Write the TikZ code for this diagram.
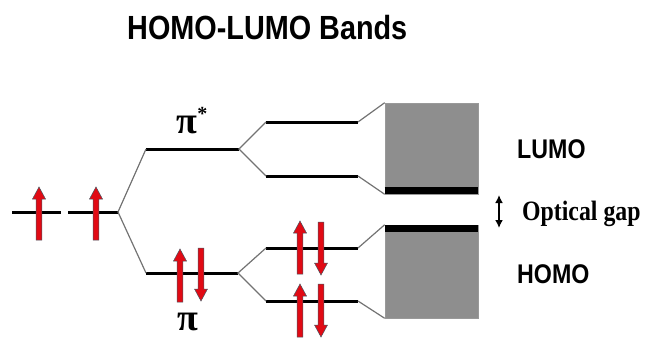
\documentclass[tikz,border=0pt]{standalone}
\usepackage{fontspec}
\setmainfont{Liberation Serif}
\setsansfont{Liberation Sans}
\newfontfamily\labelfont[FakeStretch=0.86]{Liberation Sans}
\newfontfamily\gapfont[FakeStretch=0.85]{Liberation Serif}
\usetikzlibrary{arrows.meta, calc}

\definecolor{spinred}{RGB}{225,10,20}
\definecolor{bandgray}{RGB}{142,142,142}

\begin{document}
\begin{tikzpicture}[x=1pt, y=-1pt,
    level/.style={line width=3pt},
    link/.style={draw=black!55, line width=1.2pt},
    band/.style={fill=bandgray, draw=black!40, line width=0.6pt},
    edge/.style={line width=7pt},
    spin/.style={fill=spinred, draw=black!70!cyan, line width=0.5pt},
    label/.style={anchor=base west, inner sep=0pt, font=\labelfont\bfseries\fontsize{27}{30}\selectfont},
    greek/.style={anchor=base, inner sep=0pt, font=\bfseries\fontsize{38}{42}\selectfont},
    spinup/.pic={\filldraw[spin] (-2.8,0) -- (-2.8,-41) -- (-6.5,-41) -- (0,-53) -- (6.5,-41) -- (2.8,-41) -- (2.8,0) -- cycle;},
    spindown/.pic={\filldraw[spin] (-2.8,0) -- (-2.8,41) -- (-6.5,41) -- (0,53) -- (6.5,41) -- (2.8,41) -- (2.8,0) -- cycle;}]

    \useasboundingbox (0,0) rectangle (645,338);

    \node[anchor=base west, inner sep=0pt] (title) at (127,39)
        {\labelfont\bfseries\fontsize{33.5}{38}\selectfont HOMO-LUMO Bands};

    % atomic levels
    \coordinate (a1l) at (12,212);  \coordinate (a1r) at (61,212);
    \coordinate (a2l) at (68,212);  \coordinate (a2r) at (118,212);
    % pi and pi* levels
    \coordinate (psl) at (146,149); \coordinate (psr) at (239,149);
    \coordinate (pl) at (146,273);  \coordinate (pr) at (238,273);
    % split levels
    \coordinate (l1l) at (266,122); \coordinate (l1r) at (358,122);
    \coordinate (l2l) at (266,176); \coordinate (l2r) at (358,176);
    \coordinate (h1l) at (266,248); \coordinate (h1r) at (358,248);
    \coordinate (h2l) at (266,301); \coordinate (h2r) at (358,301);

    \foreach \a/\b in {a1l/a1r, a2l/a2r, psl/psr, pl/pr, l1l/l1r, l2l/l2r, h1l/h1r, h2l/h2r}
        \draw[level] (\a) -- (\b);

    \draw[link] (psl) -- (a2r) -- (pl);
    \draw[link] (l1l) -- (psr) -- (l2l);
    \draw[link] (h1l) -- (pr) -- (h2l);

    % bands
    \node[band, minimum width=93pt, minimum height=91pt, inner sep=0pt] (lumo) at (431.5,148.5) {};
    \node[band, minimum width=93pt, minimum height=93pt, inner sep=0pt] (homo) at (431.5,271.5) {};
    \draw[edge] ($(lumo.south west)+(0,-3.5)$) -- ($(lumo.south east)+(0,-3.5)$);
    \draw[edge] ($(homo.north west)+(0,4)$) -- ($(homo.north east)+(0,4)$);

    \draw[link] (l1r) -- (lumo.north west);
    \draw[link] (l2r) -- (lumo.south west);
    \draw[link] (h1r) -- (homo.north west);
    \draw[link] (h2r) -- (homo.south west);

    % spins
    \pic at (39,240) {spinup};
    \pic at (96,240) {spinup};
    \pic at (180,302) {spinup};
    \pic at (201,248) {spindown};
    \pic at (300,274) {spinup};
    \pic at (321,222) {spindown};
    \pic at (300,337) {spinup};
    \pic at (321,284) {spindown};

    \node[greek] (pistar) at (192,133) {π\raisebox{13pt}{\fontsize{20}{22}\selectfont *}};
    \node[greek] (pi) at (187.5,330) {π};

    \node[label] (lumolab) at (517,158) {LUMO};
    \node[label] (homolab) at (517,283) {HOMO};

    \coordinate (gtop) at (499,195);
    \coordinate (gbot) at (499,228);
    \draw[{Latex[length=8pt,width=8pt]}-{Latex[length=8pt,width=8pt]}, line width=2.5pt] (gtop) -- (gbot);
    \node[anchor=base west, inner sep=0pt] (gap) at (522,220) {\gapfont\bfseries\fontsize{28}{32}\selectfont Optical gap};
\end{tikzpicture}
\end{document}
